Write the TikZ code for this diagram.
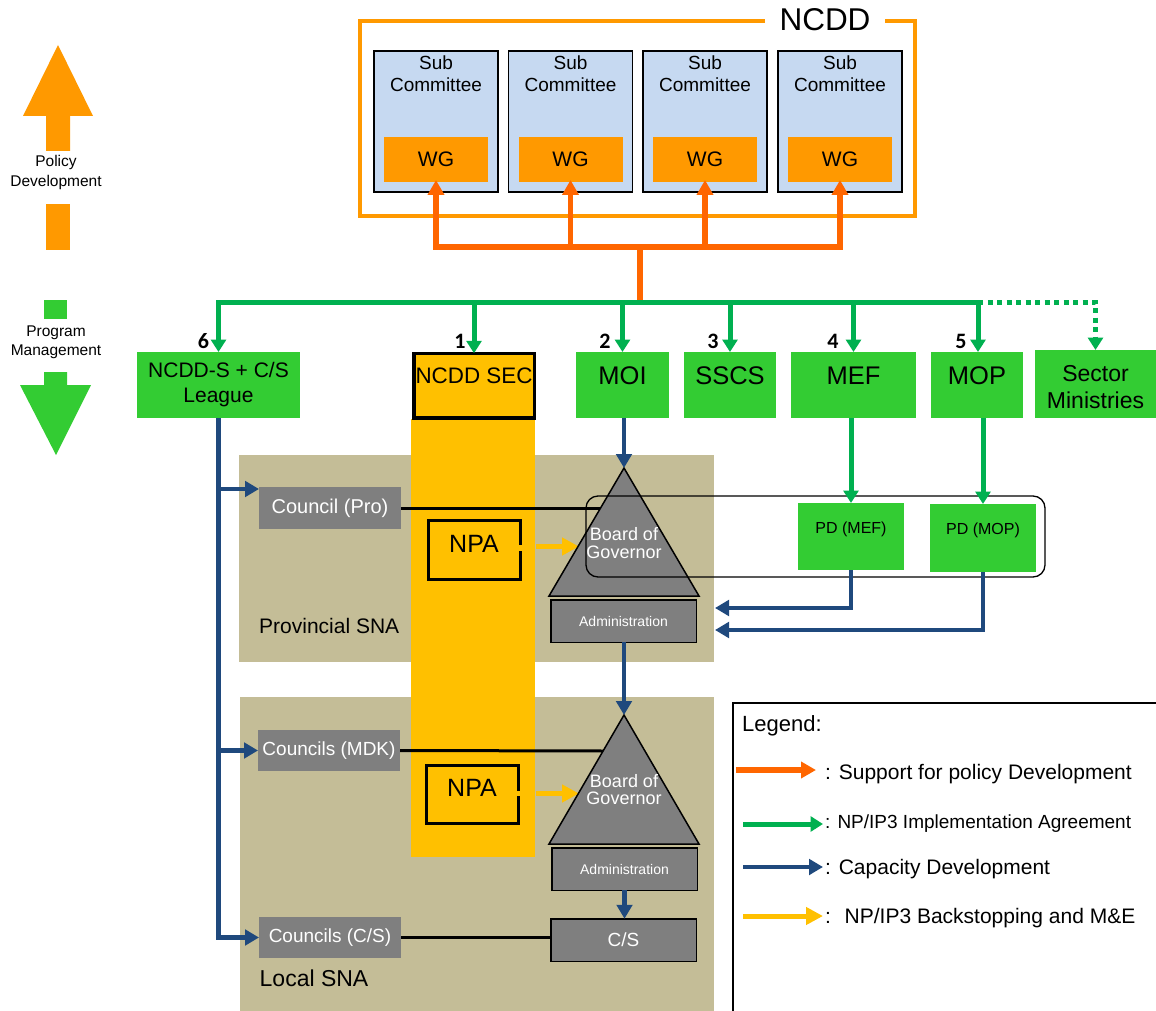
\documentclass[tikz,border=0pt]{standalone}
\usepackage{fontspec}
\setmainfont{Liberation Sans}
\newfontfamily\numfont{Carlito}
\usetikzlibrary{arrows.meta}
\definecolor{ncddor}{HTML}{FF9900}
\definecolor{conor}{HTML}{FF6600}
\definecolor{boxgreen}{HTML}{33CC33}
\definecolor{lngreen}{HTML}{00B050}
\definecolor{lnblue}{HTML}{1F497D}
\definecolor{colyellow}{HTML}{FFC000}
\definecolor{snatan}{HTML}{C4BD97}
\definecolor{boxgray}{HTML}{7F7F7F}
\definecolor{subblue}{HTML}{C6D9F1}
\newcommand*\myfs[2]{\fontsize{#1}{#2}\selectfont}
\begin{document}
\begin{tikzpicture}[x=1pt,y=-1pt,
 sz/.style 2 args={minimum width=#1pt,minimum height=#2pt},
 plain/.style={inner sep=0,outer sep=0},
 subbox/.style={plain,fill=subblue,draw=black,line width=1.5pt},
 wgbox/.style={plain,fill=ncddor,font=\myfs{21}{24}},
 gbox/.style={plain,fill=boxgreen,align=center},
 graybox/.style={plain,fill=boxgray,text=white},
 adminbox/.style={plain,fill=boxgray,draw=black,line width=1.5pt,text=white},
 lbl/.style={inner sep=0,align=center},
 num/.style={inner sep=0,font=\numfont\bfseries\myfs{22}{24}},
 orline/.style={draw=conor,line width=5.5pt},
 orarr/.style={orline,-{Triangle[length=15pt,width=16pt]}},
 grline/.style={draw=lngreen,line width=5pt},
 grarr/.style={grline,-{Triangle[length=12.5pt,width=15pt]}},
 blline/.style={draw=lnblue,line width=4.8pt},
 blarr/.style={blline,-{Triangle[length=14pt,width=15.5pt]}},
 ylarr/.style={draw=colyellow,line width=5pt,-{Triangle[length=17pt,width=17pt]}},
 blk/.style={draw=black,line width=3pt},
 legtxt/.style={anchor=base west,inner sep=0},
]
\useasboundingbox (0,0) rectangle (1156,1011);

% ---- NCDD frame ----
\draw[ncddor,line width=3.5pt] (765,21) -- (360,21) -- (360,216) -- (915,216) -- (915,21) -- (885,21);
\node[lbl,font=\myfs{31.5}{34}] (ncddt) at (825,20) {NCDD};

\foreach \i/\x in {1/436,2/570.5,3/705,4/840}{
  \node[subbox,sz={124}{141}] (sc\i) at (\x,121.5) {};
  \node[lbl,font=\myfs{19}{22}] (sct\i) at (\x,74) {Sub\\Committee};
  \node[wgbox,sz={104}{45}] (wg\i) at (\x,159.5) {WG};
}

% ---- left side symbols ----
\fill[ncddor] (58,45) -- (93,116) -- (70,116) -- (70,151) -- (46,151) -- (46,116) -- (23,116) -- cycle;
\fill[ncddor] (46,204) rectangle (70,250);
\node[lbl,font=\myfs{15.5}{19.5}] (poltxt) at (56,172.5) {Policy\\Development};
\fill[boxgreen] (44,300) rectangle (67,319);
\node[lbl,font=\myfs{15.5}{19}] (progtxt) at (56,342) {Program\\Management};
\fill[boxgreen] (44,372) -- (67,372) -- (67,385) -- (91,385) -- (56,455) -- (20,385) -- (44,385) -- cycle;

% ---- SNA areas ----
\fill[snatan] (239,455) rectangle (714,662);
\fill[snatan] (240,697) rectangle (714,1011);
\fill[colyellow] (411,419) rectangle (535,857);
\node[legtxt,font=\myfs{21}{24}] (provt) at (259,633) {Provincial SNA};
\node[legtxt,font=\myfs{23}{26}] (localt) at (259.5,986.5) {Local SNA};

% ---- top level boxes ----
\node[gbox,sz={163}{66},font=\myfs{21}{25}] (ncdds) at (218.5,385) {NCDD-S + C/S\\League};
\node[plain,fill=colyellow,draw=black,line width=3.5pt,sz={120.5}{64.5}] (ncddsec) at (474,385.5) {};
\node[lbl,font=\myfs{22.4}{24}] (ncddsect) at (474,376) {NCDD SEC};
\node[gbox,sz={93}{66}] (moi) at (622.5,385) {};
\node[lbl,font=\myfs{25.5}{28}] (moit) at (622.5,375.5) {MOI};
\node[gbox,sz={92}{66}] (sscs) at (730,385) {};
\node[lbl,font=\myfs{25.5}{28}] (sscst) at (730,375.5) {SSCS};
\node[gbox,sz={125}{66}] (mef) at (853.5,385) {};
\node[lbl,font=\myfs{25.5}{28}] (meft) at (853.5,375.5) {MEF};
\node[gbox,sz={92}{66}] (mop) at (977,385) {};
\node[lbl,font=\myfs{25.5}{28}] (mopt) at (977,375.5) {MOP};
\node[gbox,sz={121}{68}] (sector) at (1095.5,384) {};
\node[lbl,font=\myfs{23}{27}] (sectort) at (1095.5,387) {Sector\\Ministries};

\node[num] (n6) at (203.5,341.5) {6};
\node[num] (n1) at (460,341.5) {1};
\node[num] (n2) at (605,341.5) {2};
\node[num] (n3) at (713,341.5) {3};
\node[num] (n4) at (833,341.5) {4};
\node[num] (n5) at (961,341.5) {5};

% ---- orange connectors ----
\coordinate (oT) at (640,302);
\coordinate (oB) at (640,247);
\draw[orline] (oT) -- (oB);
\draw[orline,line cap=rect] (wg1.south |- oB) -- (wg4.south |- oB);
\foreach \i in {1,...,4} \draw[orarr] (wg\i.south |- oB) -- ([yshift=2pt]wg\i.south);

% ---- green connectors ----
\coordinate (gL) at (218.5,302);
\coordinate (gR) at (978,302);
\draw[grline,line cap=rect] (gL) -- (gR);
\foreach \n in {ncdds,ncddsec,moi,sscs,mef} \draw[grarr] (\n.north |- gL) -- (\n.north);
\draw[grarr] (gR) -- (gR |- mop.north);
\draw[grarr,dash pattern=on 5pt off 4.5pt] (gR) -- (sector.north |- gL) -- (sector.north);

% ---- council boxes ----
\node[graybox,sz={142}{42},font=\myfs{20}{22}] (cpro) at (330,508) {Council (Pro)};
\node[graybox,sz={142}{41},font=\myfs{19}{22}] (cmdk) at (329,750.5) {Councils (MDK)};
\node[graybox,sz={142}{41},font=\myfs{19}{22}] (ccs) at (330,937.5) {Councils (C/S)};

% ---- NPA boxes ----
\node[plain,sz={92}{59}] (npa1) at (474.25,550) {};
\draw[black,line width=3pt] (520,545) -- (520,520.5) -- (428.5,520.5) -- (428.5,579.5) -- (520,579.5) -- (520,551);
\node[lbl,font=\myfs{25}{28}] (npa1t) at (474,543.5) {NPA};
\node[plain,sz={92}{58}] (npa2) at (472.5,794) {};
\draw[black,line width=3pt] (518.5,791) -- (518.5,765.5) -- (426.5,765.5) -- (426.5,823) -- (518.5,823) -- (518.5,796);
\node[lbl,font=\myfs{25}{28}] (npa2t) at (472,788) {NPA};

% ---- triangles and admin ----
\coordinate (t1a) at (624,468);
\coordinate (t1l) at (549,596);
\coordinate (t1r) at (699,596);
\coordinate (t2a) at (624,715);
\coordinate (t2l) at (549,844);
\coordinate (t2r) at (699,844);
\coordinate (t1x) at (600,508);
\coordinate (t2x) at (604,751);
\coordinate (y1s) at (536,546.5);
\coordinate (y1e) at (579,546.5);
\coordinate (y2s) at (536,793.5);
\coordinate (y2e) at (579,793.5);

\draw[blk] (cpro.east) -- (t1x);
\draw[blk] (cmdk.east) -- (t2x);
\draw[ylarr] (y1s) -- (y1e);
\draw[ylarr] (y2s) -- (y2e);

\filldraw[fill=boxgray,draw=black,line width=1.5pt] (t1a) -- (t1l) -- (t1r) -- cycle;
\filldraw[fill=boxgray,draw=black,line width=1.5pt] (t2a) -- (t2l) -- (t2r) -- cycle;
\node[lbl,text=white,font=\myfs{18}{17.5}] (bog1) at (624,543) {Board of\\Governor};
\node[lbl,text=white,font=\myfs{18}{17.5}] (bog2) at (624,789.5) {Board of\\Governor};

\node[adminbox,sz={145.5}{42.5},font=\myfs{14}{16}] (adm1) at (623.5,621) {Administration};
\node[adminbox,sz={145.5}{42.5},font=\myfs{14}{16}] (adm2) at (624.5,869) {Administration};
\node[adminbox,sz={145.5}{42.5},font=\myfs{19}{22}] (cs) at (623.5,940) {C/S};
\draw[blk] (ccs.east) -- (cs.west |- ccs.east);

% ---- PD group ----
\node[plain,draw=black,line width=1.3pt,rounded corners=12pt,sz={459}{81}] (pdgrp) at (815.5,536.5) {};
\node[gbox,sz={106}{67}] (pdmef) at (851,536.5) {};
\node[lbl,font=\myfs{16}{18}] (pdmeft) at (851,529.5) {PD (MEF)};
\node[gbox,sz={106}{68}] (pdmop) at (983,538) {};
\node[lbl,font=\myfs{16}{18}] (pdmopt) at (983,530.5) {PD (MOP)};
\draw[grarr] (pdmef.north |- mef.south) -- (pdmef.north);
\draw[grarr] (pdmop.north |- mop.south) -- (pdmop.north);

% ---- blue connectors ----
\coordinate (cproin) at (259,489);
\coordinate (pdmefin) at (715,608);
\coordinate (pdmopin) at (715,630);
\draw[blarr] (t1a |- moi.south) -- (t1a);
\draw[blarr] (t2a |- adm1.south) -- (t2a);
\draw[blarr] (adm2.south) -- (adm2.south |- cs.north);
\draw[blarr] (pdmef.south) |- (pdmefin);
\draw[blarr] (pdmop.south) |- (pdmopin);
\draw[blarr] (ncdds.south) |- (cproin);
\draw[blarr] (ncdds.south) |- (cmdk.west);
\draw[blarr] (ncdds.south) |- (ccs.west);

% ---- legend ----
\draw[black,line width=2pt] (733,703) rectangle (1180,1030);
\node[legtxt,font=\myfs{22}{24}] (legt) at (742,731) {Legend:};
\coordinate (lo1) at (736,770);  \coordinate (lo2) at (816,770);
\coordinate (lg1) at (743,824);  \coordinate (lg2) at (823,824);
\coordinate (lb1) at (743,867);  \coordinate (lb2) at (823,867);
\coordinate (ly1) at (743,916);  \coordinate (ly2) at (823,916);
\draw[orarr] (lo1) -- (lo2);
\draw[grarr] (lg1) -- (lg2);
\draw[blarr] (lb1) -- (lb2);
\draw[ylarr] (ly1) -- (ly2);
\node[legtxt,font=\myfs{21}{24}] (lot) at (825,779) {: Support for policy Development};
\node[legtxt,font=\myfs{19}{22}] (lgt) at (825,828) {: NP/IP3 Implementation Agreement};
\node[legtxt,font=\myfs{21}{24}] (lbt) at (825,874.5) {: Capacity Development};
\node[legtxt,font=\myfs{21}{24}] (lyt) at (825,923.5) {:~ NP/IP3 Backstopping and M\&E};
\end{tikzpicture}
\end{document}
